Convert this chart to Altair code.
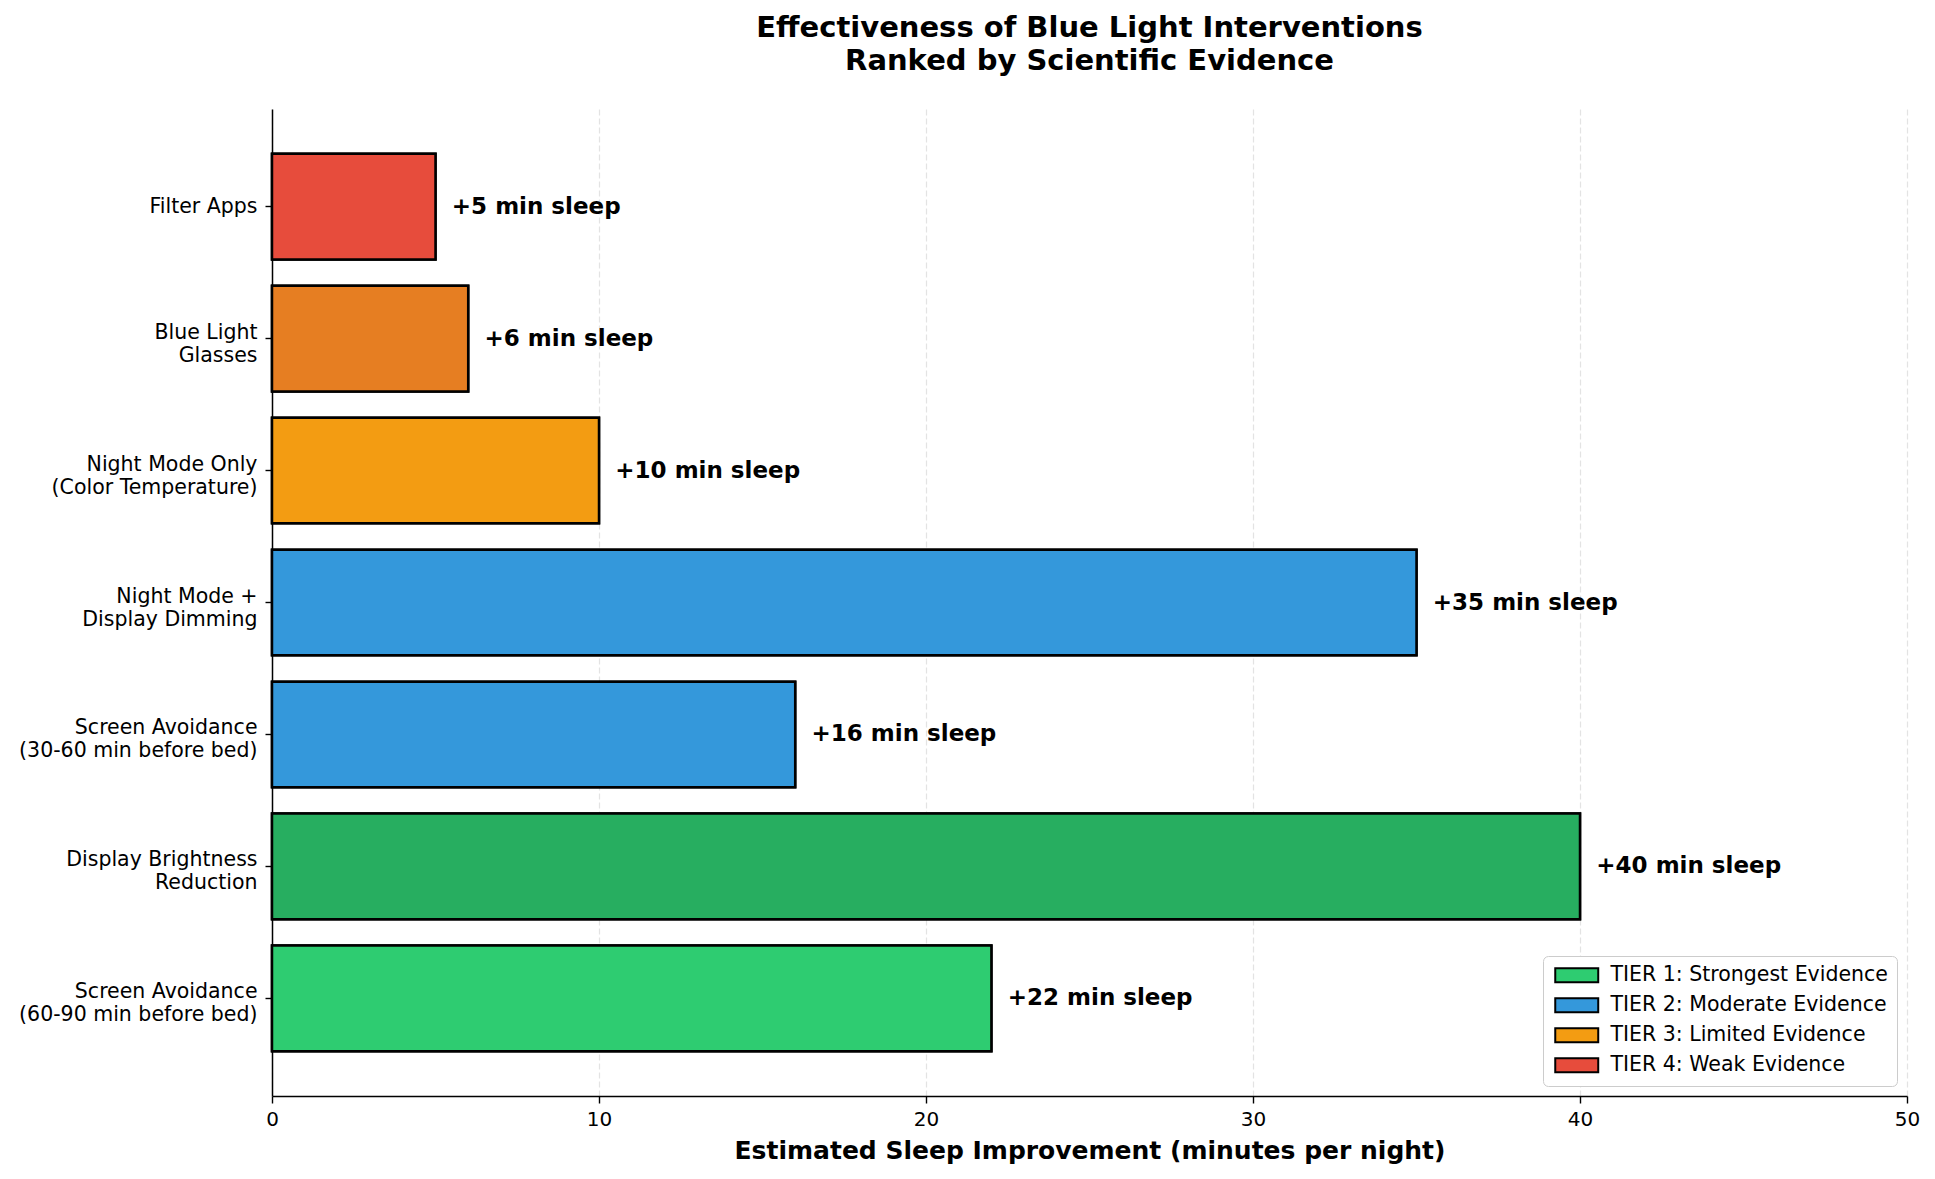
import altair as alt
import pandas as pd

labels = [
    "Filter Apps",
    "Blue Light\nGlasses",
    "Night Mode Only\n(Color Temperature)",
    "Night Mode +\nDisplay Dimming",
    "Screen Avoidance\n(30-60 min before bed)",
    "Display Brightness\nReduction",
    "Screen Avoidance\n(60-90 min before bed)",
]
values = [5, 6, 10, 35, 16, 40, 22]
tiers = [
    "TIER 4: Weak Evidence",
    "TIER 3: Limited Evidence",
    "TIER 3: Limited Evidence",
    "TIER 2: Moderate Evidence",
    "TIER 2: Moderate Evidence",
    "TIER 1: Strongest Evidence",
    "TIER 1: Strongest Evidence",
]
bar_colors = ["#e74c3c", "#e67e22", "#f39c12", "#3498db", "#3498db", "#27ae60", "#2ecc71"]
tier_names = [
    "TIER 1: Strongest Evidence",
    "TIER 2: Moderate Evidence",
    "TIER 3: Limited Evidence",
    "TIER 4: Weak Evidence",
]
tier_colors = ["#2ecc71", "#3498db", "#f39c12", "#e74c3c"]
x_ticks = [0, 10, 20, 30, 40, 50]

df = pd.DataFrame({
    "label": labels,
    "value": values,
    "tier": tiers,
    "hex": bar_colors,
    "text": [f"+{v} min sleep" for v in values],
})

FONT = "DejaVu Sans"

y_enc = alt.Y(
    "label:N",
    sort=labels,
    scale=alt.Scale(paddingInner=0.2, paddingOuter=0.34),
    axis=alt.Axis(
        title=None,
        labelExpr="split(datum.label, '\\n')",
        labelFontSize=20.5,
        labelLineHeight=23,
        labelFont=FONT,
        labelColor="black",
        labelAlign="right",
        labelBaseline="middle",
        labelLimit=0,
        labelPadding=8,
        labelOffset={"condition": {"test": "indexof(datum.label, '\\n') >= 0", "value": -6}, "value": 0},
        tickSize=7,
        tickWidth=1.4,
        tickColor="black",
        domainColor="black",
        domainWidth=1.5,
        grid=False,
    ),
)
x_enc = alt.X(
    "value:Q",
    scale=alt.Scale(domain=[0, 50], nice=False),
    axis=alt.Axis(
        values=x_ticks,
        format="d",
        title="Estimated Sleep Improvement (minutes per night)",
        titleFont=FONT,
        titleFontSize=25,
        titleFontWeight="bold",
        titleColor="black",
        titlePadding=9,
        labelFontSize=20,
        labelFont=FONT,
        labelColor="black",
        labelPadding=6,
        labelFlush=False,
        tickSize=7,
        tickWidth=1.4,
        tickColor="black",
        domainColor="black",
        domainWidth=1.5,
        grid=True,
        gridDash=[6, 3],
        gridColor="#b0b0b0",
        gridOpacity=0.35,
        gridWidth=1.2,
    ),
)

base = alt.Chart(df)

legend_bars = base.mark_bar(stroke="black", strokeWidth=2.5).encode(
    x=x_enc,
    y=y_enc,
    color=alt.Color(
        "tier:N",
        scale=alt.Scale(domain=tier_names, range=tier_colors),
        legend=alt.Legend(
            title=None,
            orient="bottom-right",
            offset=10,
            fillColor="white",
            strokeColor="#cccccc",
            cornerRadius=5,
            padding=9,
            labelFont=FONT,
            labelFontSize=20.5,
            labelColor="black",
            labelLimit=0,
            labelOffset=38,
            symbolType="M-1,-1H5.14V1H-1Z",
            symbolSize=196,
            symbolStrokeColor="black",
            symbolStrokeWidth=2,
            symbolOpacity=1,
            rowPadding=7,
        ),
    ),
)

bars = base.mark_bar(stroke="black", strokeWidth=2.5).encode(
    x=alt.X("value:Q"),
    y=alt.Y("label:N", sort=labels),
    color=alt.Color("hex:N", scale=None),
)

texts = base.transform_calculate(lx="datum.value + 0.5").mark_text(
    align="left", baseline="middle", font=FONT, fontSize=23, fontWeight="bold", color="black"
).encode(
    x=alt.X("lx:Q"),
    y=alt.Y("label:N", sort=labels),
    text="text:N",
)

chart = alt.layer(legend_bars, bars, texts).resolve_scale(color="independent").properties(
    width=1635,
    height=987,
    title=alt.TitleParams(
        ["Effectiveness of Blue Light Interventions", "Ranked by Scientific Evidence"],
        font=FONT,
        fontSize=29,
        fontWeight="bold",
        color="black",
        anchor="middle",
        lineHeight=33,
        offset=33,
    ),
    autosize=alt.AutoSizeParams(type="none"),
    padding={"left": 272, "top": 109, "right": 28, "bottom": 83},
).configure(background="white").configure_view(stroke=None)

chart.save("out.html", embed_options={"renderer": "svg", "actions": False})
